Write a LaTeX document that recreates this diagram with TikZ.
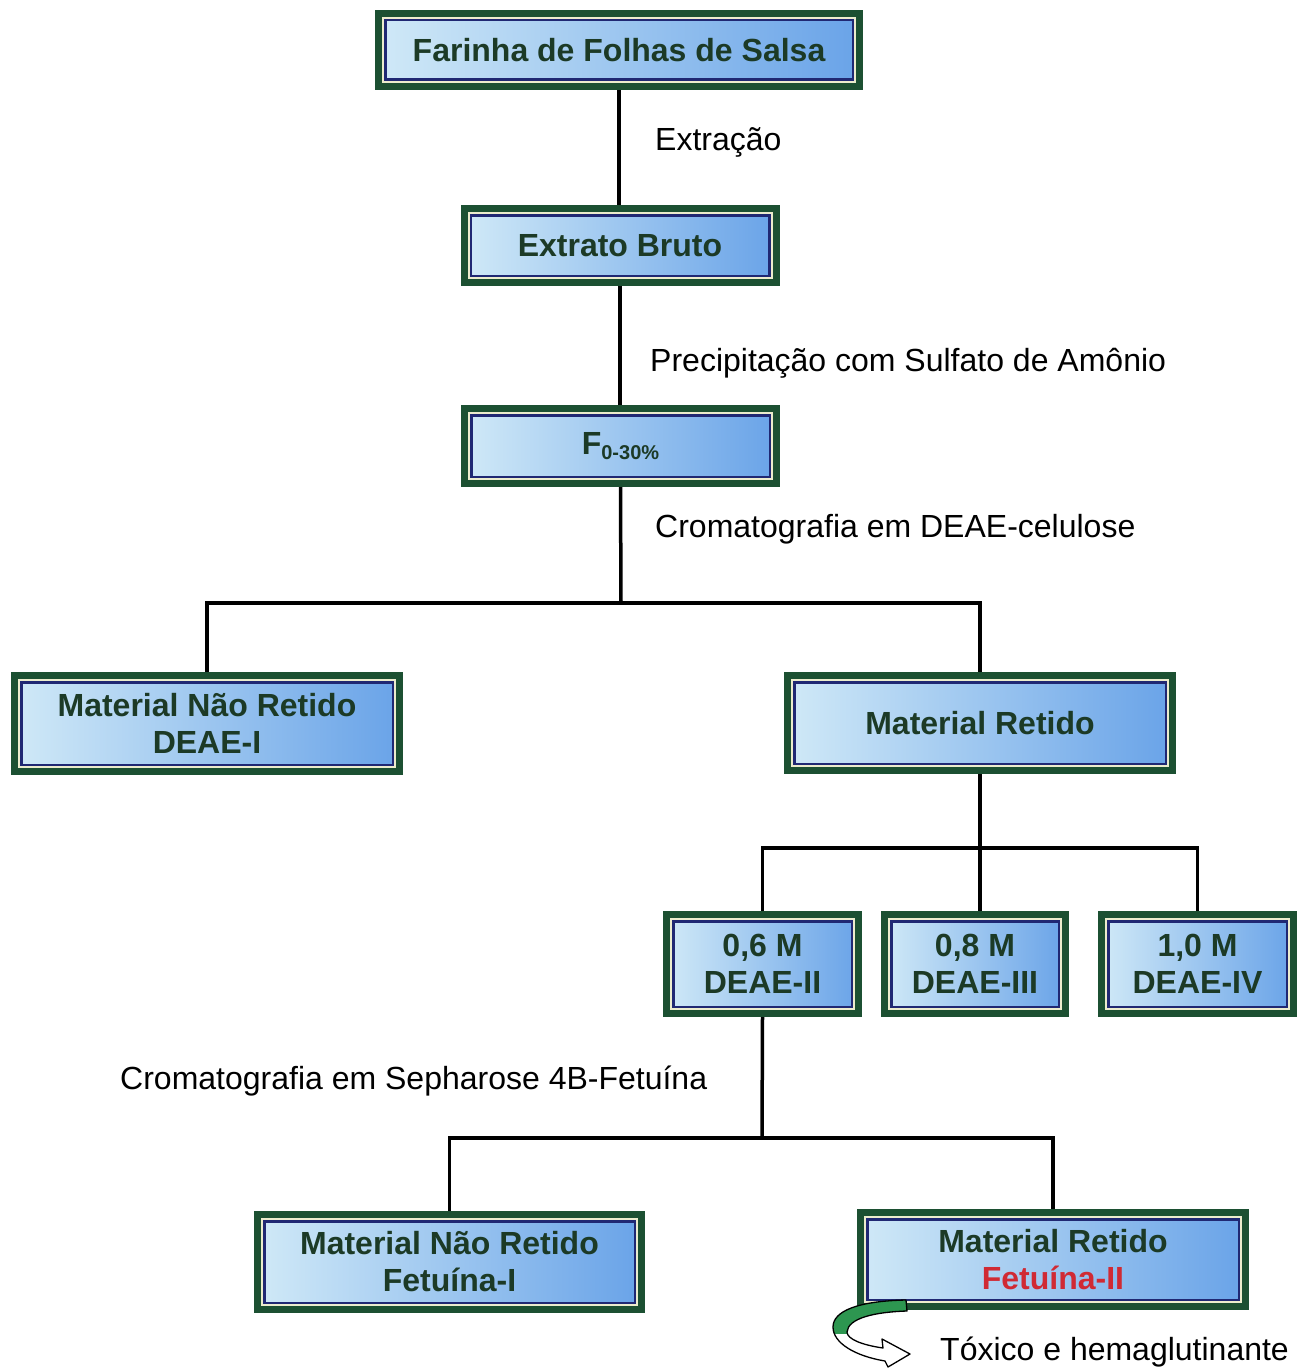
\documentclass[tikz,border=0pt]{standalone}
\usepackage{fontspec}
\setmainfont{Liberation Sans}

\definecolor{framegreen}{RGB}{28,80,50}
\definecolor{boxtext}{RGB}{28,58,38}
\definecolor{innernavy}{RGB}{32,40,115}
\definecolor{innercream}{RGB}{236,236,205}
\definecolor{boxleft}{RGB}{208,233,247}
\definecolor{boxright}{RGB}{105,163,232}
\definecolor{fetred}{RGB}{208,42,52}
\definecolor{ribbon}{RGB}{45,150,80}

\tikzset{
  box/.style={draw=framegreen, line width=7pt, left color=boxleft, right color=boxright,
    text=boxtext, font=\fontsize{32}{37}\selectfont\bfseries, align=center, inner sep=0pt,
    path picture={
      \draw[innercream, line width=2pt]
        ([shift={(4.5pt,-4.5pt)}]path picture bounding box.north west) rectangle
        ([shift={(-4.5pt,4.5pt)}]path picture bounding box.south east);
      \draw[innernavy, line width=2.5pt]
        ([shift={(6.75pt,-6.75pt)}]path picture bounding box.north west) rectangle
        ([shift={(-6.75pt,6.75pt)}]path picture bounding box.south east);
    }},
  link/.style={line width=3.5pt},
  steplabel/.style={anchor=west, inner sep=0pt, font=\fontsize{32}{38}\selectfont}
}

\begin{document}
\begin{tikzpicture}[x=1pt, y=-1pt]
\useasboundingbox (0,0) rectangle (1312,1370);

% boxes
\node[box, minimum width=481pt, minimum height=73pt] (farinha) at (619,50) {Farinha de Folhas de Salsa};
\node[box, minimum width=312pt, minimum height=74pt] (extrato) at (620,245.5) {Extrato Bruto};
\node[box, minimum width=312pt, minimum height=75pt] (fracao) at (620.5,446) {F{\fontsize{20}{20}\selectfont\raisebox{-5pt}{0-30\%}}};
\node[box, minimum width=385pt, minimum height=96pt] (naoretA) at (207,723.5) {Material Não Retido\\DEAE-I};
\node[box, minimum width=385pt, minimum height=95pt] (retidoA) at (980,723) {Material Retido};
\node[box, minimum width=192pt, minimum height=99pt] (m06) at (762.5,964) {0,6 M\\DEAE-II};
\node[box, minimum width=181pt, minimum height=99pt] (m08) at (975,964) {0,8 M\\DEAE-III};
\node[box, minimum width=192pt, minimum height=99pt] (m10) at (1197.5,964) {1,0 M\\DEAE-IV};
\node[box, minimum width=384pt, minimum height=95pt] (naoretB) at (449.5,1262) {Material Não Retido\\Fetuína-I};
\node[box, minimum width=385pt, minimum height=94pt] (retidoB) at (1053,1259.5) {Material Retido\\\textcolor{fetred}{Fetuína-II}};

% split points
\coordinate (splitA) at (621,603);
\coordinate (splitB) at (980,848);
\coordinate (splitC) at (762,1138);

% connectors
\draw[link] (farinha.south) -- (farinha.south |- extrato.north);
\draw[link] (extrato.south) -- (extrato.south |- fracao.north);
\draw[link] (fracao.south) -- (splitA);
\draw[link] (naoretA.north) -- (naoretA.north |- splitA) -- (retidoA.north |- splitA) -- (retidoA.north);
\draw[link] (retidoA.south) -- (splitB);
\draw[link] (m06.north) -- (m06.north |- splitB) -- (m10.north |- splitB) -- (m10.north);
\draw[link] (splitB) -- (splitB |- m08.north);
\draw[link] (m06.south) -- (splitC);
\draw[link] (naoretB.north) -- (naoretB.north |- splitC) -- (retidoB.north |- splitC) -- (retidoB.north);

% step labels
\node[steplabel] (lbextr) at (655,142) {Extração};
\node[steplabel] (lbprec) at (650,363) {Precipitação com Sulfato de Amônio};
\node[steplabel] (lbdeae) at (655,529) {Cromatografia em DEAE-celulose};
\node[steplabel] (lbseph) at (120,1081) {Cromatografia em Sepharose 4B-Fetuína};
\node[steplabel] (lbtox) at (940,1352) {Tóxico e hemaglutinante};

% curled arrow: green on top, white underneath
\def\curl{(906,1300) .. controls (858,1301) and (833,1311) .. (833,1327)
  .. controls (833,1343) and (855,1356) .. (885,1361)
  -- (888,1367) -- (910,1354) -- (882,1339) -- (883,1348)
  .. controls (862,1345) and (847,1339) .. (847,1332)
  .. controls (848,1318) and (875,1312) .. (907,1311) -- cycle}
\fill[white] \curl;
\begin{scope}
  \clip (820,1295) rectangle (915,1333);
  \fill[ribbon] \curl;
\end{scope}
\draw[black, line width=1.3pt, line join=round] \curl;
\end{tikzpicture}
\end{document}
